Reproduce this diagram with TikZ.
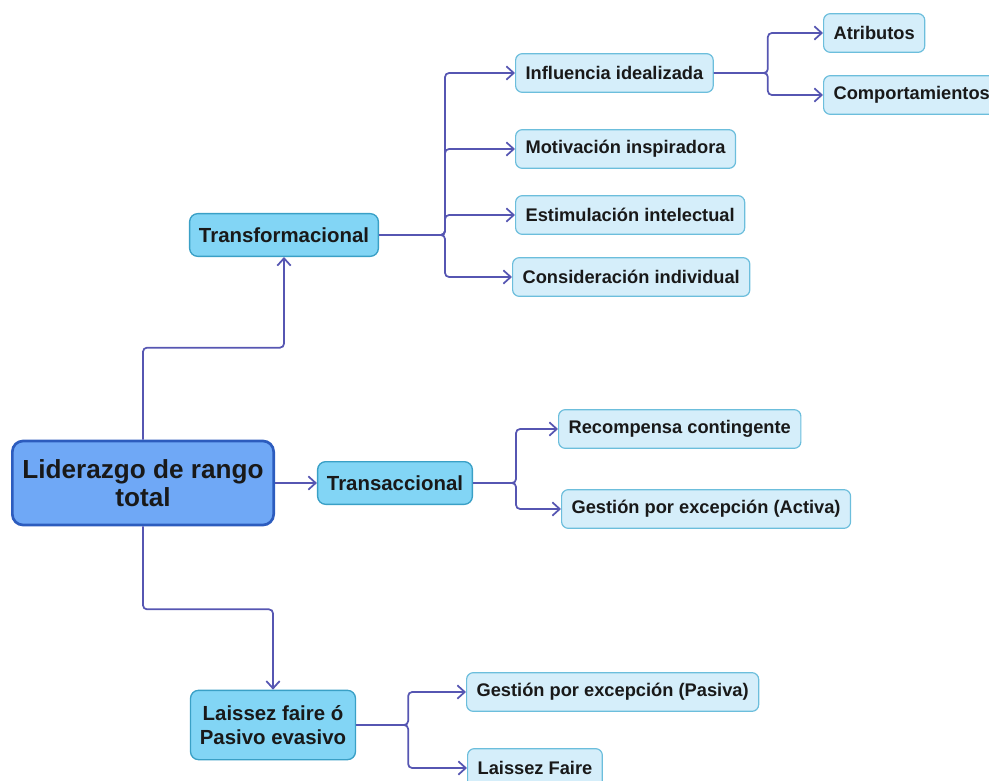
\documentclass[tikz,border=0pt]{standalone}
\usepackage{fontspec}
\setmainfont{Liberation Sans}
\usetikzlibrary{arrows.meta}
\definecolor{rootfill}{HTML}{6FA8F6}
\definecolor{rootline}{HTML}{2C5CBE}
\definecolor{midfill}{HTML}{82D5F5}
\definecolor{midline}{HTML}{3AA0C6}
\definecolor{leaffill}{HTML}{D5EEFA}
\definecolor{leafline}{HTML}{6CBEDC}
\definecolor{linecol}{HTML}{5656B2}

\begin{document}
\begin{tikzpicture}[x=0.75pt,y=-0.75pt,
			every node/.style = {shape=rectangle, rounded corners=5pt,
				draw, align=center, text=black!90, font=\bfseries\fontsize{13.7}{15}\selectfont},
			root/.style = {fill=rootfill, draw=rootline, line width=2pt, rounded corners=8pt,
				minimum width=196pt, minimum height=63pt, font=\bfseries\fontsize{19.6}{21}\selectfont},
			mid/.style = {fill=midfill, draw=midline, line width=1pt, rounded corners=6pt,
				minimum height=32pt, inner xsep=7pt, font=\bfseries\fontsize{15.3}{18}\selectfont},
			leaf/.style = {fill=leaffill, draw=leafline, line width=0.9pt,
				minimum height=29pt, inner xsep=7.5pt, anchor=west},
			link/.style = {draw=linecol, line width=1.3pt, rounded corners=3pt,
				-{Straight Barb[length=5.5pt,width=10pt]}}]
	\useasboundingbox (0,0) rectangle (989,781);
	% main nodes
	\node[root] (lid) at (143,483) {Liderazgo de rango\\total};
	\node[mid] (trf) at (284,235) {Transformacional};
	\node[mid] (trc) at (395,483) {Transaccional};
	\node[mid, minimum height=52pt] (lai) at (273,725) {Laissez faire ó\\Pasivo evasivo};
	% leaves
	\node[leaf] (infl) at (515,73) {Influencia idealizada};
	\node[leaf] (moti) at (515,149) {Motivación inspiradora};
	\node[leaf] (esti) at (515,215) {Estimulación intelectual};
	\node[leaf] (cons) at (512,277) {Consideración individual};
	\node[leaf] (atr) at (823,33) {Atributos};
	\node[leaf] (comp) at (823,95) {Comportamientos};
	\node[leaf] (rec) at (558,429) {Recompensa contingente};
	\node[leaf] (gact) at (561,509) {Gestión por excepción (Activa)};
	\node[leaf] (gpas) at (466,692) {Gestión por excepción (Pasiva)};
	\node[leaf] (lf) at (467,768) {Laissez Faire};
	% connectors
	\draw[link] (lid.north) -- ++(0,-92) -| (trf.south);
	\draw[link] (lid.east) -- (trc.west);
	\draw[link] (lid.south) -- ++(0,83) -| (lai.north);
	\foreach \c in {infl,moti,esti,cons}
		\draw[link] (trf.east) -- ++(66,0) |- (\c.west);
	\foreach \c in {atr,comp}
		\draw[link] (infl.east) -- ++(54,0) |- (\c.west);
	\foreach \c in {rec,gact}
		\draw[link] (trc.east) -- ++(43,0) |- (\c.west);
	\foreach \c in {gpas,lf}
		\draw[link] (lai.east) -- ++(52,0) |- (\c.west);
\end{tikzpicture}
\end{document}
